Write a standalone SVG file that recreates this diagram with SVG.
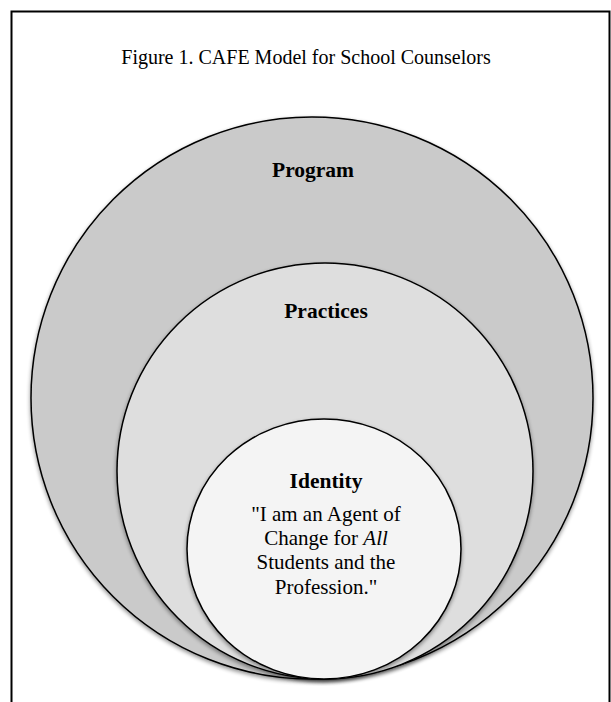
<svg xmlns="http://www.w3.org/2000/svg" width="611" height="702" viewBox="0 0 611 702">
<style>
.t{font-family:"Liberation Serif","Times New Roman",serif;fill:#000;text-anchor:middle}
.title{font-size:20px}
.lbl{font-size:21.5px;font-weight:bold}
.q{font-size:21px}
.c{stroke:#000;stroke-width:1.5}
</style>
<defs>
<filter id="sh" x="-10%" y="-10%" width="120%" height="125%">
<feGaussianBlur in="SourceAlpha" stdDeviation="2"/>
<feOffset dy="2" result="b"/>
<feComponentTransfer><feFuncA type="linear" slope="0.45"/></feComponentTransfer>
<feMerge><feMergeNode/><feMergeNode in="SourceGraphic"/></feMerge>
</filter>
</defs>
<rect width="611" height="702" fill="#fff"/>
<path d="M11.5 702 V11.5 H609.5 V702" fill="none" stroke="#000" stroke-width="2"/>
<text class="t title" x="306" y="64">Figure 1. CAFE Model for School Counselors</text>
<g id="program">
<circle class="c" cx="312" cy="398" r="281" fill="#cacaca" filter="url(#sh)"/>
<text class="t lbl" x="313" y="177">Program</text>
</g>
<g id="practices">
<circle class="c" cx="325" cy="471" r="208" fill="#dedede" filter="url(#sh)"/>
<text class="t lbl" x="326" y="318">Practices</text>
</g>
<g id="identity">
<ellipse class="c" cx="324" cy="549" rx="137" ry="130" fill="#f4f4f4" filter="url(#sh)"/>
<text class="t lbl" x="326" y="488">Identity</text>
<text class="t q" x="326" y="521">"I am an Agent of</text>
<text class="t q" x="326" y="545">Change for <tspan font-style="italic">All</tspan></text>
<text class="t q" x="326" y="569">Students and the</text>
<text class="t q" x="326" y="594">Profession."</text>
</g>
<g id="connectors"/>
</svg>
